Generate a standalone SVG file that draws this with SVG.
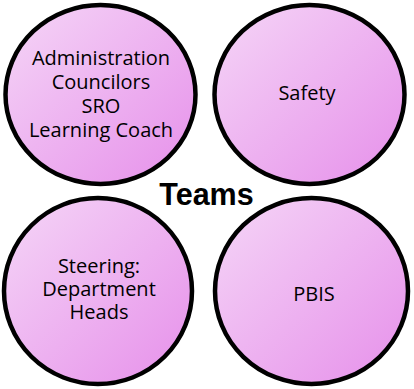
<svg xmlns="http://www.w3.org/2000/svg" width="414" height="389" viewBox="0 0 414 389">
<defs>
<linearGradient id="g" x1="0" y1="0" x2="1" y2="1">
<stop offset="0" stop-color="#f5d6f7"/>
<stop offset="1" stop-color="#e68fea"/>
</linearGradient>
<style>
.c{fill:url(#g);stroke:#000;stroke-width:4.5}
.t{font-family:"Open Sans","Liberation Sans",sans-serif;font-size:20px;fill:#000;text-anchor:middle}
.h{font-family:"Liberation Sans",Arial,sans-serif;font-size:30.5px;font-weight:bold;fill:#000;text-anchor:middle}
</style>
</defs>
<rect width="414" height="389" fill="#fff"/>
<g id="connectors"/>
<g id="node-admin">
<ellipse class="c" cx="100.5" cy="94.5" rx="95" ry="89.5"/>
<text class="t" x="101" y="65">Administration</text>
<text class="t" x="101" y="89">Councilors</text>
<text class="t" x="101" y="113">SRO</text>
<text class="t" x="101" y="137">Learning Coach</text>
</g>
<g id="node-safety">
<ellipse class="c" cx="309.5" cy="94.5" rx="95" ry="89.5"/>
<text class="t" x="307" y="100">Safety</text>
</g>
<g id="node-steering">
<ellipse class="c" cx="98" cy="291" rx="94" ry="93"/>
<text class="t" x="99" y="273">Steering:</text>
<text class="t" x="99" y="296">Department</text>
<text class="t" x="99" y="319">Heads</text>
</g>
<g id="node-pbis">
<ellipse class="c" cx="311.5" cy="291" rx="96.5" ry="93"/>
<text class="t" x="314" y="301">PBIS</text>
</g>
<g id="title">
<text class="h" x="206.5" y="205">Teams</text>
</g>
</svg>
